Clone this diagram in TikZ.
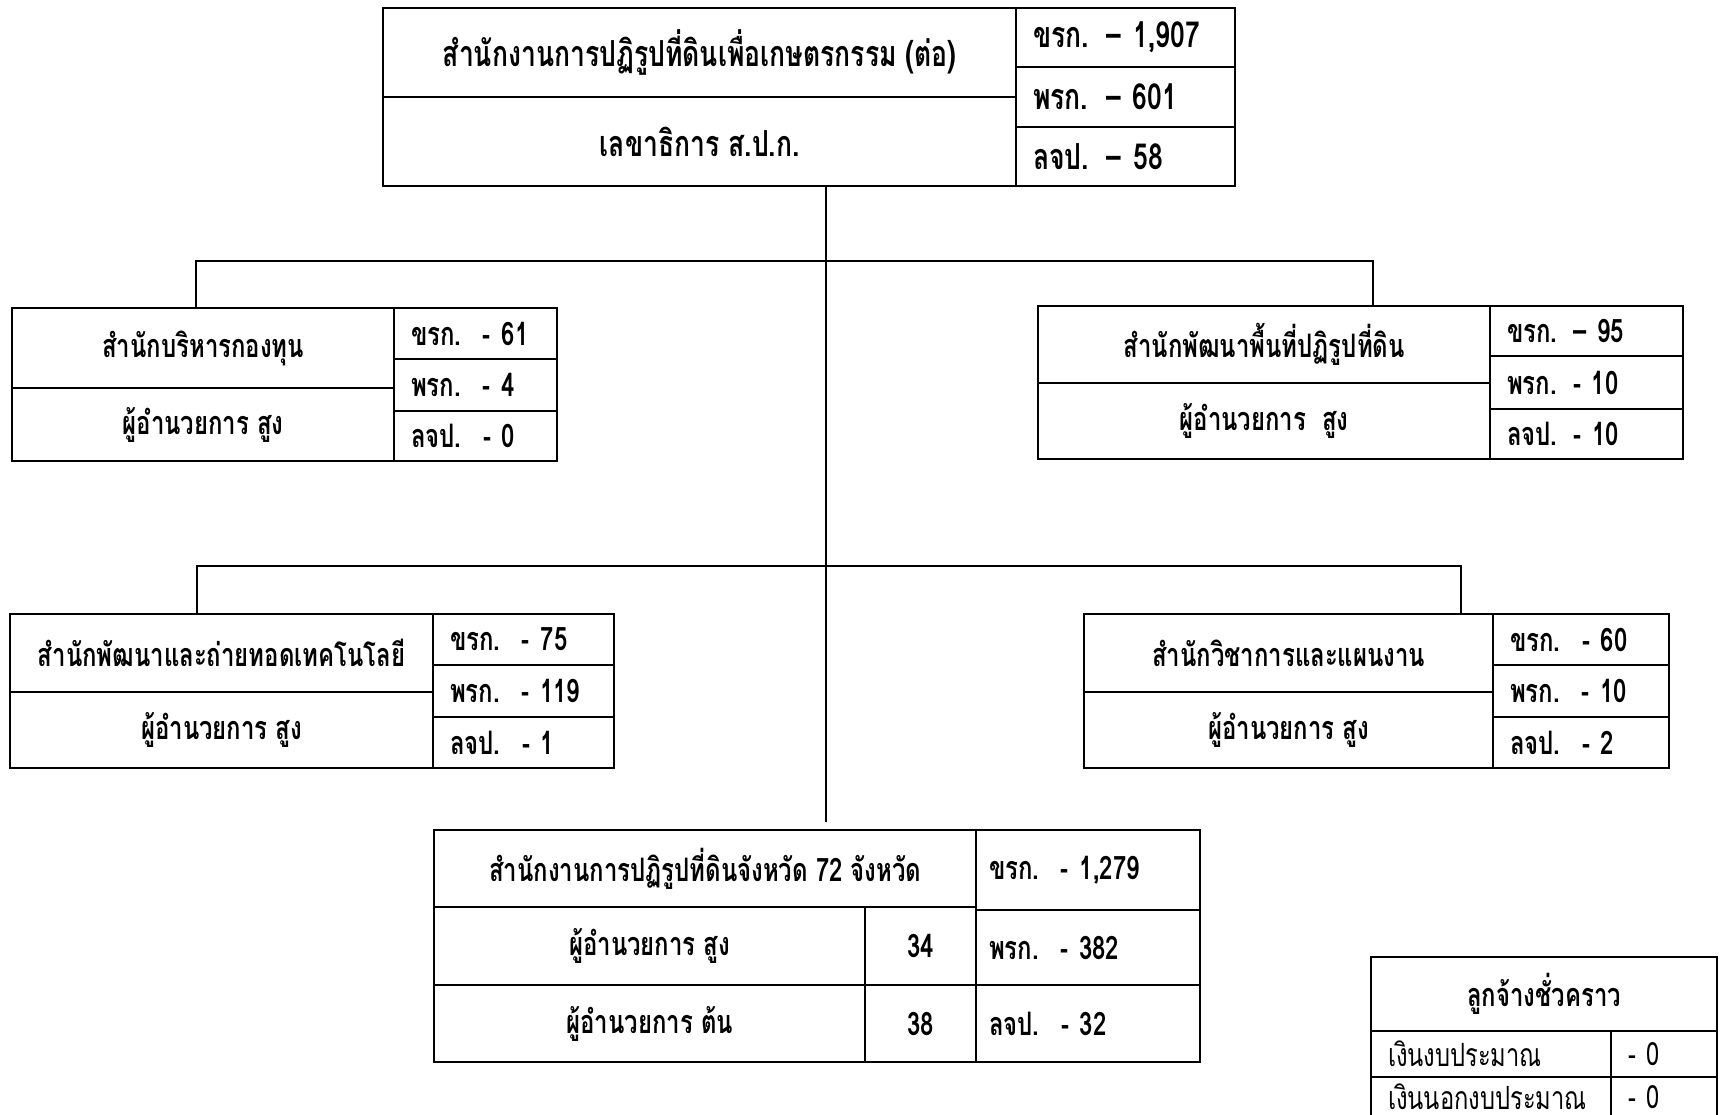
\documentclass[tikz,border=0pt]{standalone}
\usepackage{fontspec}
\setmainfont[Script=Thai, FakeStretch=0.74]{Loma}

\begin{document}
\begin{tikzpicture}[x=0.01cm, y=-0.01cm,
    every node/.style={font=\fontsize{9.2}{11}\selectfont\bfseries},
    cell/.style={draw, line width=0.6pt, inner sep=0pt, anchor=north west},
    cnt/.style={cell, align=left, text width=#1-0.34cm, minimum width=#1},
    big/.style={font=\fontsize{10.2}{12}\selectfont\bfseries},
    row/.style={font=\fontsize{9.1}{11}\selectfont}]
        \clip (0,0) rectangle (1727,1114);
        \tikzset{line width=0.6pt}

        % Top box
        \node[cell, big, minimum width=6.33cm, minimum height=0.89cm] (t1) at (382,7) {สำนักงานการปฏิรูปที่ดินเพื่อเกษตรกรรม (ต่อ)};
        \node[cell, big, minimum width=6.33cm, minimum height=0.89cm] (t2) at (382,96) {เลขาธิการ ส.ป.ก.};
        \node[cnt=2.19cm, big, minimum height=0.59cm] (ta) at (1015,7) {ขรก. – 1,907};
        \node[cnt=2.19cm, big, minimum height=0.60cm] (tb) at (1015,66) {พรก. – 601};
        \node[cnt=2.19cm, big, minimum height=0.59cm] (tc) at (1015,126) {ลจป. – 58};

        % First level
        \node[cell, minimum width=3.82cm, minimum height=0.80cm] (l1n) at (11,307) {สำนักบริหารกองทุน};
        \node[cell, minimum width=3.82cm, minimum height=0.73cm] (l1h) at (11,387) {ผู้อำนวยการ สูง};
        \node[cnt=1.63cm, minimum height=0.51cm] (l1a) at (393,307) {ขรก.~~- 61};
        \node[cnt=1.63cm, minimum height=0.52cm] (l1b) at (393,358) {พรก.~~- 4};
        \node[cnt=1.63cm, minimum height=0.50cm] (l1c) at (393,410) {ลจป.~~- 0};

        \node[cell, minimum width=4.52cm, minimum height=0.77cm] (r1n) at (1037,305) {สำนักพัฒนาพื้นที่ปฏิรูปที่ดิน};
        \node[cell, minimum width=4.52cm, minimum height=0.76cm] (r1h) at (1037,382) {ผู้อำนวยการ~~สูง};
        \node[cnt=1.93cm, minimum height=0.50cm] (r1a) at (1489,305) {ขรก. – 95};
        \node[cnt=1.93cm, minimum height=0.53cm] (r1b) at (1489,355) {พรก. - 10};
        \node[cnt=1.93cm, minimum height=0.50cm] (r1c) at (1489,408) {ลจป. - 10};

        % Second level
        \node[cell, minimum width=4.23cm, minimum height=0.78cm] (l2n) at (9,613) {สำนักพัฒนาและถ่ายทอดเทคโนโลยี};
        \node[cell, minimum width=4.23cm, minimum height=0.76cm] (l2h) at (9,691) {ผู้อำนวยการ สูง};
        \node[cnt=1.81cm, minimum height=0.51cm] (l2a) at (432,613) {ขรก.~~- 75};
        \node[cnt=1.81cm, minimum height=0.52cm] (l2b) at (432,664) {พรก.~~- 119};
        \node[cnt=1.81cm, minimum height=0.51cm] (l2c) at (432,716) {ลจป.~~- 1};

        \node[cell, minimum width=4.09cm, minimum height=0.78cm] (r2n) at (1083,613) {สำนักวิชาการและแผนงาน};
        \node[cell, minimum width=4.09cm, minimum height=0.76cm] (r2h) at (1083,691) {ผู้อำนวยการ สูง};
        \node[cnt=1.76cm, minimum height=0.51cm] (r2a) at (1492,613) {ขรก.~~- 60};
        \node[cnt=1.76cm, minimum height=0.52cm] (r2b) at (1492,664) {พรก.~~- 10};
        \node[cnt=1.76cm, minimum height=0.51cm] (r2c) at (1492,716) {ลจป.~~- 2};

        % Provincial offices
        \node[cell, minimum width=5.42cm, minimum height=0.77cm] (bn) at (433,829) {สำนักงานการปฏิรูปที่ดินจังหวัด 72 จังหวัด};
        \node[cell, minimum width=4.31cm, minimum height=0.78cm] (bh1) at (433,906) {ผู้อำนวยการ สูง};
        \node[cell, minimum width=1.11cm, minimum height=0.78cm] (bk1) at (864,906) {34};
        \node[cell, minimum width=4.31cm, minimum height=0.77cm] (bh2) at (433,984) {ผู้อำนวยการ ต้น};
        \node[cell, minimum width=1.11cm, minimum height=0.77cm] (bk2) at (864,984) {38};
        \node[cnt=2.24cm, minimum height=0.80cm, text width=1.98cm] (ba) at (975,829) {ขรก.~~- 1,279};
        \node[cnt=2.24cm, minimum height=0.75cm, text width=1.98cm] (bb) at (975,909) {พรก.~~- 382};
        \node[cnt=2.24cm, minimum height=0.77cm, text width=1.98cm] (bc) at (975,984) {ลจป.~~- 32};

        % Temporary staff
        \node[cell, minimum width=3.46cm, minimum height=0.74cm] (lg) at (1370,956) {ลูกจ้างชั่วคราว};
        \node[cnt=2.40cm, row, minimum height=0.46cm] (lg1) at (1370,1030) {เงินงบประมาณ};
        \node[cnt=1.06cm, row, minimum height=0.46cm] (lg1v) at (1610,1030) {- 0};
        \node[cnt=2.40cm, row, minimum height=0.40cm] (lg2) at (1370,1076) {เงินนอกงบประมาณ};
        \node[cnt=1.06cm, row, minimum height=0.40cm] (lg2v) at (1610,1076) {- 0};

        % Connectors
        \coordinate (tend) at (826,822);
        \coordinate (b1l) at (196,261);
        \coordinate (b1r) at (1373,261);
        \coordinate (b2l) at (197,566);
        \coordinate (b2r) at (1461,566);
        \draw (t2.south -| tend) -- (tend);
        \draw (b1l |- l1n.north) -- (b1l) -- (b1r) -- (b1r |- r1n.north);
        \draw (b2l |- l2n.north) -- (b2l) -- (b2r) -- (b2r |- r2n.north);
    \end{tikzpicture}
\end{document}
